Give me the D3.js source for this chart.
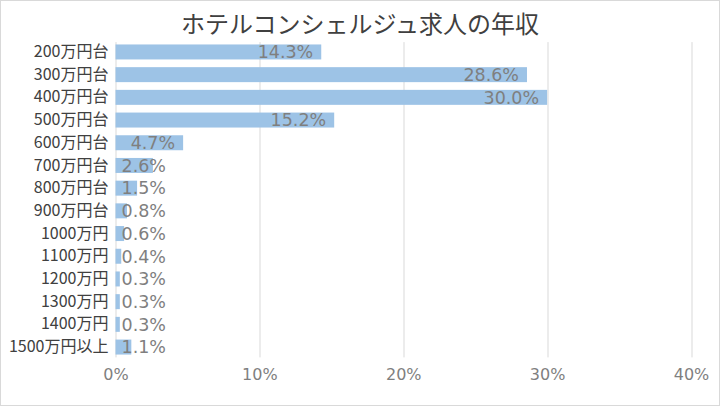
<!DOCTYPE html>
<html>
<head>
<meta charset="utf-8">
<script src="https://cdn.jsdelivr.net/npm/d3@7"></script>
<style>
  body { margin: 0; background: #fff; }
  svg { display: block; font-family: "Noto Sans CJK JP", "Noto Sans", sans-serif; }
</style>
</head>
<body>
<div id="chart"></div>
<script>
const title = "ホテルコンシェルジュ求人の年収";
const categories = ["200万円台", "300万円台", "400万円台", "500万円台", "600万円台", "700万円台",
  "800万円台", "900万円台", "1000万円", "1100万円", "1200万円", "1300万円", "1400万円", "1500万円以上"];
const shares = [14.3, 28.6, 30.0, 15.2, 4.7, 2.6, 1.5, 0.8, 0.6, 0.4, 0.3, 0.3, 0.3, 1.1];
const xTicks = [0, 10, 20, 30, 40];

const W = 720, H = 406;
const margin = { top: 40.6, right: 29, bottom: 47.6, left: 115.5 };
const width = W - margin.left - margin.right,
      height = H - margin.top - margin.bottom;

const numFont = "\"DejaVu Sans\", sans-serif";

const svg = d3.select("#chart").append("svg")
  .attr("width", W)
  .attr("height", H);

svg.append("rect")
  .attr("x", 0.5).attr("y", 0.5)
  .attr("width", W - 1).attr("height", H - 1)
  .attr("fill", "#fff")
  .attr("stroke", "#d9d9d9");

svg.append("text")
  .attr("x", W / 2)
  .attr("y", 33)
  .attr("text-anchor", "middle")
  .attr("fill", "#404040")
  .style("font-size", "24px")
  .text(title);

const g = svg.append("g")
  .attr("transform", `translate(${margin.left},${margin.top})`);

const x = d3.scaleLinear().domain([0, 40]).range([0, width]);
const y = d3.scaleBand().domain(categories).range([0, height])
  .paddingInner(0.34).paddingOuter(0.17);

// gridlines
g.append("g")
  .selectAll("line")
  .data(xTicks)
  .join("line")
    .attr("x1", d => Math.round(x(d)) + 0.5)
    .attr("x2", d => Math.round(x(d)) + 0.5)
    .attr("y1", 1.5)
    .attr("y2", height - 1)
    .attr("stroke", "#d9d9d9");

// x axis labels
const xAxis = g.append("g")
  .attr("transform", `translate(0,${height})`)
  .call(d3.axisBottom(x).tickValues(xTicks).tickFormat(d => d + "%").tickSize(0).tickPadding(10));
xAxis.select(".domain").remove();
xAxis.selectAll("text")
  .attr("fill", "#7f7f7f")
  .style("font-size", "16px")
  .style("font-family", numFont);

// y axis labels
const yAxis = g.append("g")
  .call(d3.axisLeft(y).tickSize(0).tickPadding(7));
yAxis.select(".domain").remove();
yAxis.selectAll("text")
  .attr("fill", "#404040")
  .style("font-size", "16px")
  .style("font-family", "\"Noto Sans CJK JP\", sans-serif");

// bars
g.append("g")
  .selectAll("rect")
  .data(shares)
  .join("rect")
    .attr("x", x(0))
    .attr("y", (d, i) => y(categories[i]))
    .attr("width", d => x(d) - x(0))
    .attr("height", y.bandwidth())
    .attr("fill", "#9dc3e6");

// data labels (inside end, clamped to start of bar)
g.append("g")
  .selectAll("text")
  .data(shares)
  .join("text")
    .attr("y", (d, i) => y(categories[i]) + y.bandwidth() / 2)
    .attr("dy", "0.36em")
    .attr("text-anchor", "end")
    .attr("fill", "#7f7f7f")
    .style("font-size", "17.5px")
    .style("font-family", numFont)
    .text(d => d.toFixed(1) + "%")
    .each(function (d) {
      const w = this.getComputedTextLength();
      d3.select(this).attr("x", Math.max(x(d) - 8, x(0) + 6 + w));
    });
</script>
</body>
</html>
